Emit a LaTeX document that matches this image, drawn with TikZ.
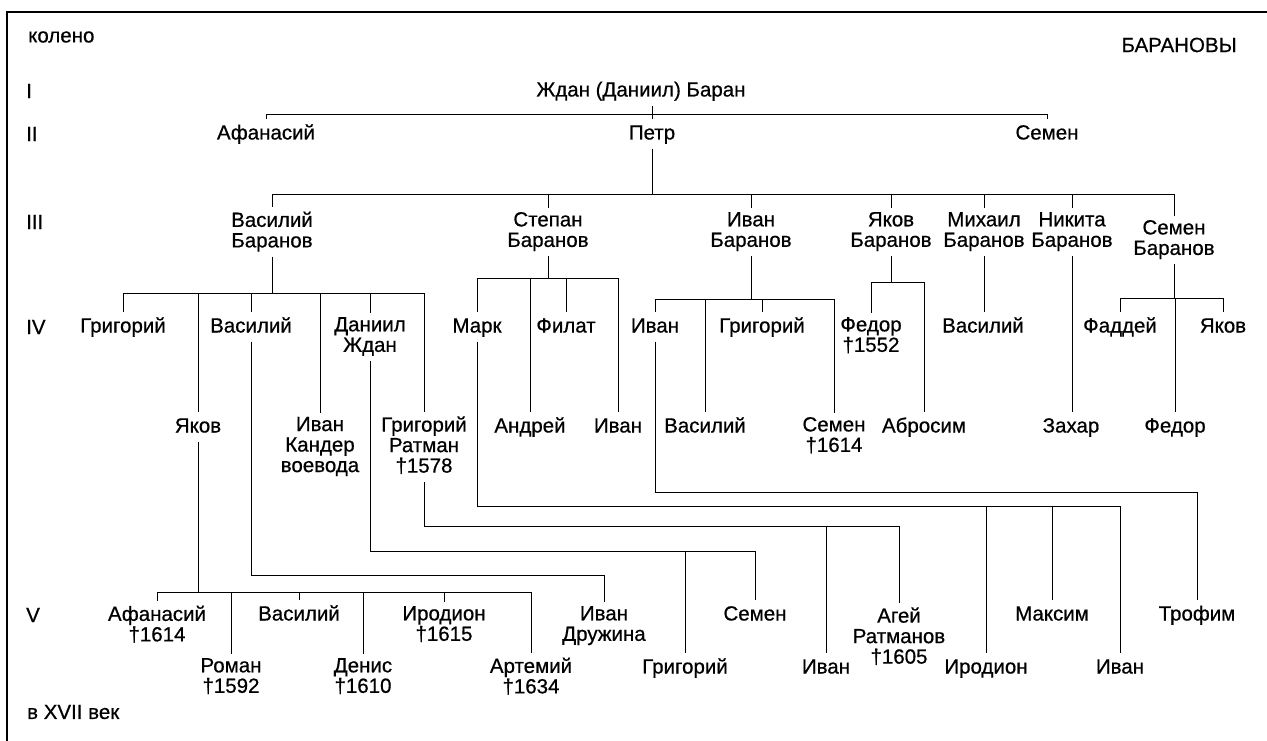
\documentclass[tikz,border=0pt]{standalone}
\usepackage{fontspec}
\setmainfont{Liberation Sans}[FakeBold=0.6]
\tikzstyle{tree edge} = [draw,line width=1pt,black]
\tikzstyle{frame edge} = [draw,line width=1.5pt,black]
\newcommand\namestrut{\rule[-5pt]{0pt}{21pt}}

\begin{document}
\begin{tikzpicture}
[x=1pt,y=-1pt,
person/.style={inner sep=4pt,align=center,font=\fontsize{20.5}{20.5}\selectfont,
  execute at begin node=\namestrut,execute at end node=\namestrut},
level/.style={anchor=west,inner sep=0pt,font=\fontsize{20.5}{20.5}\selectfont}]

\useasboundingbox (0,0) rectangle (1267,741);

%% frame
\draw[frame edge] (7,741) -- (7,12) -- (1267,12);

%% captions and generation numbers
\node[level] (kol) at (28,37) {колено};
\node[level,anchor=east] (fam) at (1237,45) {БАРАНОВЫ};
\node[level] (vek) at (27,712) {в XVII век};
\foreach \nodename/\y/\label in {l1/91/I, l2/134/II, l3/222/III, l4/327/IV, l5/615/V}
{
\node[level] (\nodename) at (26,\y) {\label};
}

%% persons
\foreach \nodename/\x/\y/\label in {
zhdan/641/91/{Ждан (Даниил) Баран},
afan/266/134/Афанасий, petr/652/134/Петр, semen/1047/134/Семен,
vasB/272/232/{Василий\\Баранов}, stepB/548/232/{Степан\\Баранов}, ivanB/751/232/{Иван\\Баранов},
yakB/891/232/{Яков\\Баранов}, mihB/984/232/{Михаил\\Баранов}, nikB/1072/232/{Никита\\Баранов},
semB/1174/240/{Семен\\Баранов},
grig4/123/327/Григорий, vas4/251/327/Василий, dan4/370/337/{Даниил\\Ждан},
yak4/198/427/Яков, ivK/320/447/{Иван\\Кандер\\воевода}, grR/424/447/{Григорий\\Ратман\\†1578},
mark/477/327/Марк, filat/566/327/Филат, andr/530/427/Андрей, ivanS/618/427/Иван,
ivan4/655/327/Иван, grigI/762/327/Григорий, vasI/705/427/Василий, semI/834/437/{Семен\\†1614},
fed/871/337/{Федор\\†1552}, abros/924/427/Абросим,
vasM/983/327/Василий, zahar/1071/427/Захар,
fadd/1120/327/Фаддей, yakS/1223/327/Яков, fedS/1175/427/Федор,
afan5/157/626/{Афанасий\\†1614}, roman/231/678/{Роман\\†1592}, vas5/299/615/Василий,
denis/363/678/{Денис\\†1610}, irodA/444/626/{Иродион\\†1615}, artem/531/678/{Артемий\\†1634},
ivD/604/626/{Иван\\Дружина}, grig5/685/668/Григорий, sem5/755/615/Семен,
ivan5/826/668/Иван, agey/899/638/{Агей\\Ратманов\\†1605},
irodB/986/668/Иродион, maks/1052/615/Максим, ivan5b/1120/668/Иван, trof/1197/615/Трофим}
{
\node[person] (\nodename) at (\x,\y) {\label};
}

%% edges: drop from parent to its bar
\coordinate (zj) at (zhdan.south -| petr.north);
\draw[tree edge] (zj) -- (zj |- 0,115);
\foreach \p/\y in {petr/195, vasB/293, stepB/278, ivanB/299, yakB/282, semB/298,
mark/506, ivan4/492, grR/526, dan4/551, vas4/575, yak4/592}
{
\draw[tree edge] (\p.south) -- (\p.south |- 0,\y);
}

%% edges: bar to child
\foreach \p/\c/\y in {zj/afan/115, zj/petr/115, zj/semen/115,
petr/vasB/195, petr/stepB/195, petr/ivanB/195, petr/yakB/195, petr/mihB/195, petr/nikB/195, petr/semB/195,
vasB/grig4/293, vasB/yak4/293, vasB/vas4/293, vasB/ivK/293, vasB/dan4/293, vasB/grR/293,
stepB/mark/278, stepB/andr/278, stepB/filat/278, stepB/ivanS/278,
ivanB/ivan4/299, ivanB/vasI/299, ivanB/grigI/299, ivanB/semI/299,
yakB/fed/282, yakB/abros/282,
semB/fadd/298, semB/yakS/298, semB/fedS/298,
mark/irodB/506, mark/maks/506, mark/ivan5b/506,
ivan4/trof/492,
grR/ivan5/526, grR/agey/526,
dan4/grig5/551, dan4/sem5/551,
vas4/ivD/575,
yak4/afan5/592, yak4/roman/592, yak4/vas5/592, yak4/denis/592, yak4/irodA/592, yak4/artem/592}
{
\draw[tree edge] (\p |- 0,\y) -| (\c.north);
}

%% edges: only child straight below
\foreach \p/\c in {mihB/vasM, nikB/zahar}
{
\draw[tree edge] (\p.south) -- (\p.south |- \c.north);
}

\end{tikzpicture}
\end{document}
